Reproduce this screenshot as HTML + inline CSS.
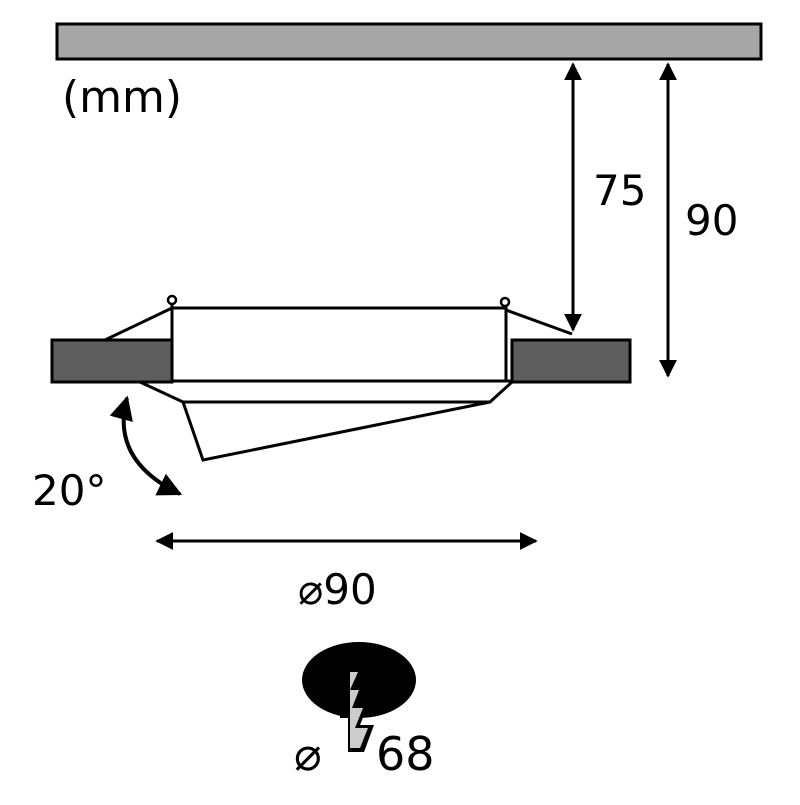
<!DOCTYPE html>
<html><head><style>body{margin:0;background:#fff}</style></head><body>
<svg width="800" height="800" viewBox="0 0 800 800" xmlns="http://www.w3.org/2000/svg" font-family="DejaVu Sans, sans-serif">
<defs>
<marker id="a" viewBox="0 0 10 10" refX="9" refY="5" markerWidth="6" markerHeight="6" orient="auto-start-reverse"><path d="M0,0 L10,5 L0,10 z" fill="#000"/></marker>
</defs>
<rect x="57" y="24" width="704" height="35" fill="#a6a6a6" stroke="#000" stroke-width="3"/>
<text x="62" y="112" font-size="44">(mm)</text>
<line x1="573" y1="64" x2="573" y2="330" stroke="#000" stroke-width="3" marker-start="url(#a)" marker-end="url(#a)"/>
<text x="593" y="205" font-size="42">75</text>
<line x1="668" y1="64" x2="668" y2="376" stroke="#000" stroke-width="3" marker-start="url(#a)" marker-end="url(#a)"/>
<text x="685" y="235" font-size="42">90</text>
<g stroke="#000" stroke-width="3" fill="none">
<line x1="172" y1="308" x2="506" y2="308"/>
<line x1="172" y1="381" x2="512" y2="381"/>
<line x1="172" y1="304" x2="172" y2="381"/>
<line x1="506" y1="306" x2="506" y2="381"/>
<circle cx="172" cy="300" r="4" stroke-width="2.5"/>
<circle cx="505" cy="302" r="4" stroke-width="2.5"/>
<line x1="172" y1="308" x2="105" y2="340"/>
<line x1="506" y1="310" x2="572" y2="334"/>
<polyline points="140,382 183,402 490,402 512,382"/>
<polyline points="183,402 203,460 490,402"/>
</g>
<rect x="52" y="340" width="120" height="42" fill="#5e5e5e" stroke="#000" stroke-width="3"/>
<rect x="512" y="340" width="118" height="42" fill="#5e5e5e" stroke="#000" stroke-width="3"/>
<path d="M127,398 Q110,460 180,494" stroke="#000" stroke-width="4" fill="none" marker-start="url(#a)" marker-end="url(#a)"/>
<text x="32" y="505" font-size="42">20°</text>
<line x1="157" y1="541" x2="536" y2="541" stroke="#000" stroke-width="3" marker-start="url(#a)" marker-end="url(#a)"/>
<text x="298" y="604" font-size="42">⌀90</text>
<ellipse cx="359" cy="680" rx="57" ry="38" fill="#000"/>
<path d="M348,718 L348,752 L364,752 L374,725 L360,725 L368,705 L356,705 L364,688 L353,688 L361,670 L352,670 L352,650 L340,650 L340,718 Z" fill="#000"/>
<path d="M350,656 L350,748 L360,748 L368,728 L355,728 L363,708 L352,708 L359,690 L350,690 L358,672 L350,672 Z" fill="#ccc"/>
<text x="294" y="770" font-size="46">⌀</text>
<text x="376" y="770" font-size="46">68</text>
</svg>
</body></html>
